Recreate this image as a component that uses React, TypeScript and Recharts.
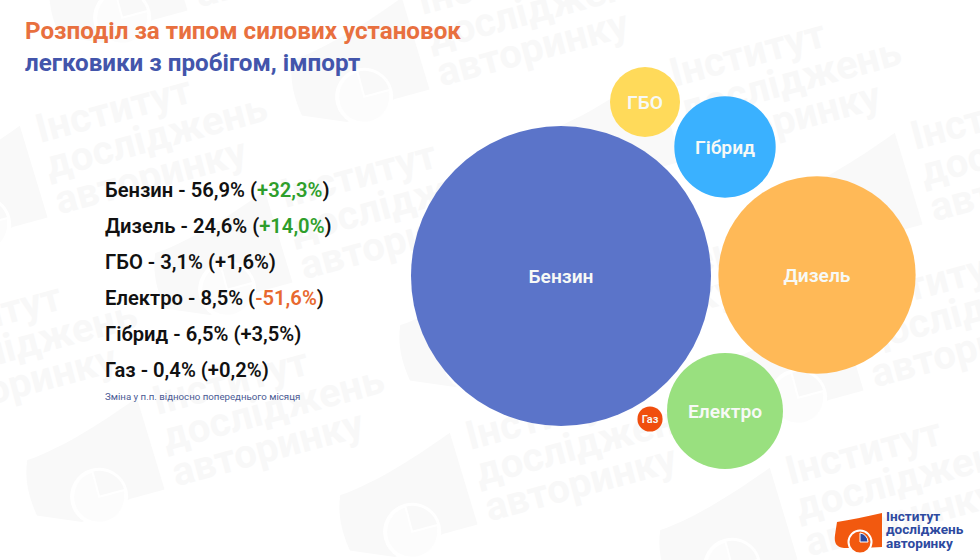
import { Scatter, ScatterChart, XAxis, YAxis, ZAxis, Cell } from "recharts";

const categories = ["Бензин", "Дизель", "ГБО", "Електро", "Гібрид", "Газ"];
const shares = [56.9, 24.6, 3.1, 8.5, 6.5, 0.4];
const changes = [32.3, 14.0, 1.6, -51.6, 3.5, 0.2];
// packed layout of the bubbles
const bubbleX = [561, 817, 645, 725, 725, 650];
const bubbleY = [276, 275, 102, 411, 147, 419];

const COLORS = ["#5B74C9", "#FFB957", "#FFDA5A", "#99E07F", "#3AB1FF", "#F04E0E"];
const FONT = "Roboto, sans-serif";
const WIDTH = 980;
const HEIGHT = 560;
const MAX_R = 150;

const bubbles = categories.map((name, i) => ({
  name,
  share: shares[i],
  x: bubbleX[i],
  y: bubbleY[i],
}));

const fmt = (v: number) => Math.abs(v).toFixed(1).replace(".", ",");

const changeColor = (v: number) => {
  if (v >= 10) return "#2E9E2B";
  if (v <= -10) return "#E8692F";
  return "#111111";
};

// background watermark tiles (origin of the word "Інститут")
const tiles = [
  [40, 143],
  [285, 208],
  [422, 15],
  [674, 87],
  [915, 150],
  [856, 316],
  [157, 415],
  [470, 450],
  [790, 485],
  [-90, 350],
  [180, -64],
  [530, 280],
];

const Watermark = () => (
  <svg
    width={WIDTH}
    height={HEIGHT}
    style={{ position: "absolute", left: 0, top: 0 }}
  >
    {tiles.map(([x, y]) => (
      <g key={`${x}-${y}`} transform={`translate(${x} ${y}) rotate(-15)`}>
        <path
          d="M-137 10 C-105 8 -60 -5 -15 -22 L-12 74 L-48 74 L-100 84 L-142 66 C-146 40 -143 24 -137 10 Z"
          fill="#F9F9F9"
        />
        <circle cx={-77} cy={64} r={27} fill="#FCFCFC" stroke="#FFFFFF" strokeWidth={4} />
        <path d="M-77 64 L-77 37 A27 27 0 0 1 -50 64 Z" fill="#F9F9F9" stroke="#FFFFFF" strokeWidth={2} />
        <g fontFamily={FONT} fontWeight={700} fontSize={40} fill="#F8F8F8">
          <text x={0} y={0}>Інститут</text>
          <text x={0} y={37}>досліджень</text>
          <text x={0} y={74}>авторинку</text>
        </g>
      </g>
    ))}
  </svg>
);

const Bubble = (props: any) => {
  const { cx, cy, width, fill, payload } = props;
  return (
    <g>
      <circle cx={cx} cy={cy} r={width / 2} fill={fill} />
      <text
        x={cx}
        y={cy + 0.5}
        dy="0.36em"
        textAnchor="middle"
        fill="#F7F9F6"
        fontFamily={FONT}
        fontWeight={600}
        fontSize={width < 40 ? 11 : 19.2}
      >
        {payload.name}
      </text>
    </g>
  );
};

const BubbleChart = () => (
  <ScatterChart
    width={WIDTH}
    height={HEIGHT}
    margin={{ top: 0, right: 0, bottom: 0, left: 0 }}
    style={{ position: "absolute", left: 0, top: 0 }}
  >
    <XAxis type="number" dataKey="x" domain={[0, WIDTH]} hide />
    <YAxis type="number" dataKey="y" domain={[0, HEIGHT]} reversed hide />
    <ZAxis
      type="number"
      dataKey="share"
      domain={[0, shares[0]]}
      range={[0, Math.PI * MAX_R * MAX_R]}
    />
    <Scatter data={bubbles} shape={Bubble} isAnimationActive={false}>
      {bubbles.map((b, i) => (
        <Cell key={b.name} fill={COLORS[i]} />
      ))}
    </Scatter>
  </ScatterChart>
);

const Logo = () => (
  <div style={{ position: "absolute", left: 830, top: 505, width: 150, height: 55 }}>
    <svg width={56} height={50} style={{ position: "absolute", left: 0, top: 0 }}>
      <path
        d="M7 17 C20 15 35 12 52 8 L52 42 L32 43 L14 43 C6 42 4 38 5 30 Z"
        fill="#F2590F"
      />
      <circle cx={30} cy={37} r={11.5} fill="#F2590F" stroke="#FFFFFF" strokeWidth={2} />
      <path d="M30 37 L30 28 A9 9 0 0 1 38 37 Z" fill="#2B4AA0" stroke="#FFFFFF" strokeWidth={1} />
    </svg>
    <div
      style={{
        position: "absolute",
        left: 56,
        top: 5,
        fontFamily: FONT,
        fontWeight: 700,
        fontSize: 13.6,
        lineHeight: "13.3px",
        color: "#2D4AA0",
      }}
    >
      Інститут
      <br />
      досліджень
      <br />
      авторинку
    </div>
  </div>
);

const App = () => (
  <div
    style={{
      position: "relative",
      width: WIDTH,
      height: HEIGHT,
      overflow: "hidden",
      background: "#FFFFFF",
      fontFamily: FONT,
    }}
  >
    <style>{"body{margin:0}"}</style>
    <Watermark />
    <BubbleChart />
    <div
      style={{
        position: "absolute",
        left: 25,
        top: 17,
        fontSize: 24.2,
        fontWeight: 700,
        color: "#E8703F",
        whiteSpace: "nowrap",
      }}
    >
      Розподіл за типом силових установок
    </div>
    <div
      style={{
        position: "absolute",
        left: 25,
        top: 49,
        fontSize: 24.2,
        fontWeight: 700,
        color: "#4355AB",
        whiteSpace: "nowrap",
      }}
    >
      легковики з пробігом, імпорт
    </div>
    <div style={{ position: "absolute", left: 105, top: 172 }}>
      {categories.map((name, i) => (
        <div
          key={name}
          style={{
            height: 36,
            lineHeight: "36px",
            fontSize: 20.2,
            fontWeight: 600,
            color: "#111111",
            whiteSpace: "nowrap",
          }}
        >
          {name} - {fmt(shares[i])}% (
          <span style={{ color: changeColor(changes[i]) }}>
            {changes[i] < 0 ? "-" : "+"}
            {fmt(changes[i])}%
          </span>
          )
        </div>
      ))}
    </div>
    <div
      style={{
        position: "absolute",
        left: 105,
        top: 391,
        fontSize: 9.7,
        color: "#4A5A94",
        whiteSpace: "nowrap",
      }}
    >
      Зміна у п.п. відносно попереднього місяця
    </div>
    <Logo />
  </div>
);

export default App;
